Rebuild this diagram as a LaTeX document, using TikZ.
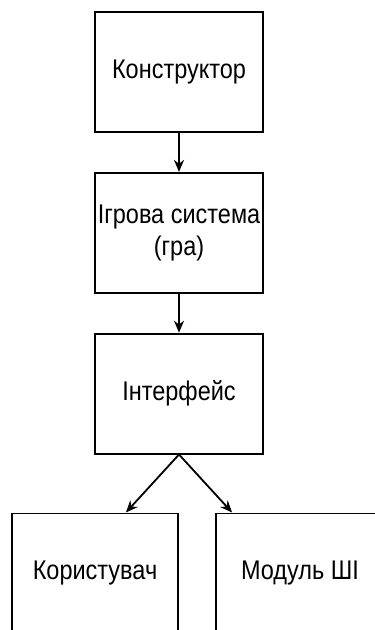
\documentclass[tikz,border=0pt]{standalone}
\usepackage{fontspec}
\setmainfont{Liberation Sans}[FakeStretch=0.87]
\usetikzlibrary{positioning,arrows.meta}
\tikzset{block/.style={draw, rectangle, minimum width=168pt, minimum height=120pt, align=center,
  font=\fontsize{27}{32}\selectfont, inner sep=0pt}, % a box of the scheme
}

\begin{document}
\begin{tikzpicture}[x=1pt,y=1pt,
-{Stealth[length=12pt,width=10pt]}, % directed edges
line width=1.8pt, % bold lines
node distance=39pt, % gap between the boxes
]
\useasboundingbox (0,0) rectangle (375,-630);
\clip (0,0) rectangle (375,-630);
\node[block] (constructor) at (179,-72) {Конструктор};
\node[block, below=of constructor] (game) {Ігрова система\\(гра)};
\node[block, below=of game] (iface) {Інтерфейс};
\node[block, below=58pt of iface, xshift=-84pt, minimum width=166pt] (user) {Користувач};
\node[block, below=58pt of iface, xshift=121pt] (ai) {Модуль ШІ};
\draw (constructor) -- (game);
\draw (game) -- (iface);
\draw (iface.south) -- ([xshift=-53pt]user.north east);
\draw (iface.south) -- ([xshift=17pt]ai.north west);
\end{tikzpicture}
\end{document}
